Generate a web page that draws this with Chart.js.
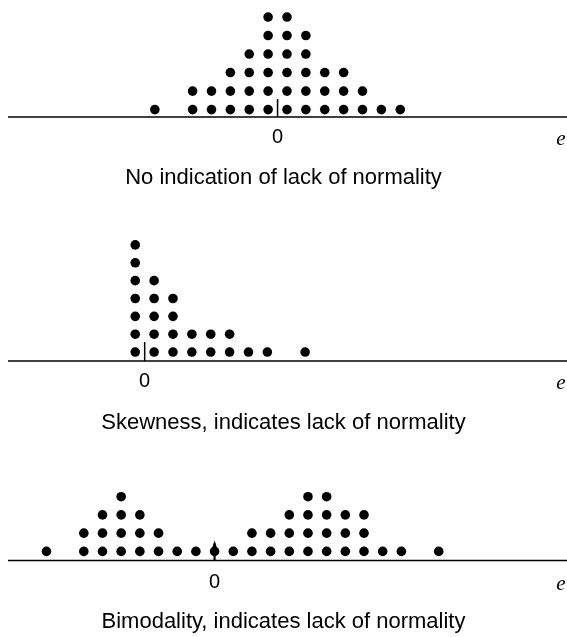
<!DOCTYPE html>
<html><head><meta charset="utf-8">
<script src="https://cdn.jsdelivr.net/npm/chart.js@4/dist/chart.umd.min.js"></script>
<style>
html,body{margin:0;padding:0;background:#fff;width:567px;height:637px;overflow:hidden}
canvas{position:absolute;left:0;display:block}
</style></head><body>
<canvas id="c1" width="567" height="196" style="top:0px"></canvas>
<canvas id="c2" width="567" height="245" style="top:196px"></canvas>
<canvas id="c3" width="567" height="196" style="top:441px"></canvas>
<script>
// ---- data (residual dot diagrams, x in dot-spacing units, 0 = zero residual) ----
const p1Columns = [-6.5, -4.5, -3.5, -2.5, -1.5, -0.5, 0.5, 1.5, 2.5, 3.5, 4.5, 5.5, 6.5];
const p1Counts  = [1, 2, 2, 3, 4, 6, 6, 5, 3, 3, 2, 1, 1];
const p1Caption = "No indication of lack of normality";

const p2Columns = [-0.5, 0.5, 1.5, 2.5, 3.5, 4.5, 5.5, 6.5, 8.5];
const p2Counts  = [7, 5, 4, 2, 2, 2, 1, 1, 1];
const p2Caption = "Skewness, indicates lack of normality";

const p3Columns = [-9, -7, -6, -5, -4, -3, -2, -1, 0, 1, 2, 3, 4, 5, 6, 7, 8, 9, 10, 12];
const p3Counts  = [1, 2, 3, 4, 3, 2, 1, 1, 1, 1, 2, 2, 3, 4, 4, 3, 3, 1, 1, 1];
const p3Caption = "Bimodality, indicates lack of normality";

const zeroTickLabel = "0";
const axisName = "e";

// ---- build stacked dots ----
function stack(cols, counts) {
  const pts = [];
  cols.forEach((c, i) => { for (let k = 1; k <= counts[i]; k++) pts.push({x: c, y: k}); });
  return pts;
}

const residAxis = {
  id: 'residAxis',
  afterDatasetsDraw(chart, args, o) {
    const ctx = chart.ctx, xs = chart.scales.x, ys = chart.scales.y;
    const yA = ys.getPixelForValue(ys.min);
    const x0 = xs.getPixelForValue(0);
    ctx.save();
    ctx.strokeStyle = '#000'; ctx.fillStyle = '#000';
    ctx.lineWidth = 1.5;
    ctx.beginPath(); ctx.moveTo(8, yA); ctx.lineTo(chart.width, yA); ctx.stroke();
    ctx.lineWidth = o.tickWidth;
    ctx.beginPath(); ctx.moveTo(x0, yA); ctx.lineTo(x0, yA - o.tickLen); ctx.stroke();
    if (o.arrow) {
      ctx.beginPath(); ctx.moveTo(x0, yA - o.tickLen - 3); ctx.lineTo(x0 - 2.2, yA - o.tickLen + 4); ctx.lineTo(x0 + 2.2, yA - o.tickLen + 4); ctx.closePath(); ctx.fill();
    }
    ctx.textAlign = 'center'; ctx.textBaseline = 'middle';
    ctx.font = '20px "Liberation Sans", Arial, sans-serif';
    ctx.fillText(zeroTickLabel, x0, yA + o.labelDy);
    ctx.font = 'italic 21px "Liberation Serif", "Times New Roman", serif';
    ctx.fillText(axisName, 561, yA + o.labelDy + 2);
    ctx.restore();
  }
};

function make(id, cols, counts, caption, xr, yr, tp, ax) {
  new Chart(document.getElementById(id), {
    type: 'scatter',
    data: { datasets: [{ data: stack(cols, counts), backgroundColor: '#000', borderWidth: 0,
      pointRadius: 4.8, pointHoverRadius: 4.8, clip: false }] },
    options: {
      responsive: false, animation: false, events: [],
      layout: { padding: 0 },
      scales: {
        x: { type: 'linear', display: false, min: xr[0], max: xr[1] },
        y: { type: 'linear', display: false, min: yr[0], max: yr[1] }
      },
      plugins: {
        legend: { display: false }, tooltip: { enabled: false },
        title: { display: true, position: 'bottom', text: caption, color: '#000',
          font: { family: '"Liberation Sans", Arial, sans-serif', size: 22, weight: 'normal', lineHeight: 1.2 },
          padding: { top: tp[0], bottom: tp[1] } },
        residAxis: ax
      }
    },
    plugins: [residAxis]
  });
}

make('c1', p1Columns, p1Counts, p1Caption, [-14.45, 15.08], [0.6, 6.66], [47.8, 4.8],
  { tickLen: 18, tickWidth: 1.5, arrow: false, labelDy: 20 });
make('c2', p2Columns, p2Counts, p2Caption, [-7.41, 22.12], [0.5, 9.47], [48.8, 4.8],
  { tickLen: 19, tickWidth: 1.5, arrow: false, labelDy: 20 });
make('c3', p3Columns, p3Counts, p3Caption, [-11.23, 18.61], [0.5, 6.79], [48.3, 1.8],
  { tickLen: 17, tickWidth: 2.2, arrow: true, labelDy: 22 });
</script>
</body></html>
